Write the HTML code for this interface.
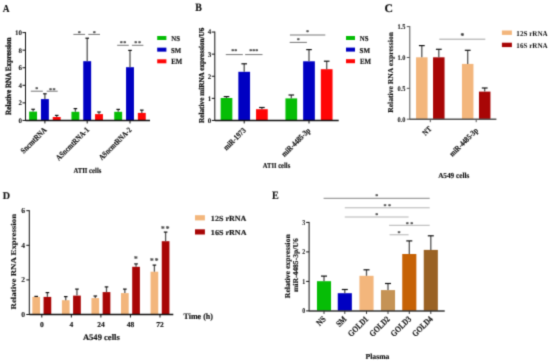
<!DOCTYPE html>
<html><head><meta charset="utf-8"><style>
html,body{margin:0;padding:0;background:#fff;}
svg{display:block;will-change:transform;text-rendering:geometricPrecision;}
text{font-family:'Liberation Serif',serif;font-weight:bold;}
</style></head><body>
<svg width="550" height="362" viewBox="0 0 550 362">
<defs><filter id="bl" color-interpolation-filters="sRGB" x="0" y="0" width="550" height="362" filterUnits="userSpaceOnUse"><feConvolveMatrix order="3" kernelMatrix="0.0225 0.1050 0.0225 0.1050 0.4900 0.1050 0.0225 0.1050 0.0225" edgeMode="duplicate" preserveAlpha="false"/></filter></defs>
<g filter="url(#bl)">
<rect width="550" height="362" fill="#fff"/>
<text transform="translate(2.71 11.80) scale(0.883 1)" x="0" y="0" font-size="10.61" fill="#111" stroke="#111" stroke-width="0.15">A</text>
<rect x="29.15" y="111.60" width="7.90" height="8.85" fill="#06bd06"/>
<line x1="33.10" y1="111.60" x2="33.10" y2="109.30" stroke="#555" stroke-width="1.3"/>
<line x1="31.30" y1="109.30" x2="34.90" y2="109.30" stroke="#111" stroke-width="1.2"/>
<rect x="40.95" y="99.10" width="7.90" height="21.35" fill="#0000c2"/>
<line x1="44.90" y1="99.10" x2="44.90" y2="93.80" stroke="#555" stroke-width="1.3"/>
<line x1="43.10" y1="93.80" x2="46.70" y2="93.80" stroke="#111" stroke-width="1.2"/>
<rect x="52.75" y="117.00" width="7.90" height="3.45" fill="#ff0606"/>
<line x1="56.70" y1="117.00" x2="56.70" y2="115.40" stroke="#555" stroke-width="1.3"/>
<line x1="54.90" y1="115.40" x2="58.50" y2="115.40" stroke="#111" stroke-width="1.2"/>
<rect x="71.45" y="111.80" width="7.90" height="8.65" fill="#06bd06"/>
<line x1="75.40" y1="111.80" x2="75.40" y2="108.60" stroke="#555" stroke-width="1.3"/>
<line x1="73.60" y1="108.60" x2="77.20" y2="108.60" stroke="#111" stroke-width="1.2"/>
<rect x="83.25" y="61.20" width="7.90" height="59.25" fill="#0000c2"/>
<line x1="87.20" y1="61.20" x2="87.20" y2="38.20" stroke="#555" stroke-width="1.3"/>
<line x1="85.40" y1="38.20" x2="89.00" y2="38.20" stroke="#111" stroke-width="1.2"/>
<rect x="95.05" y="114.10" width="7.90" height="6.35" fill="#ff0606"/>
<line x1="99.00" y1="114.10" x2="99.00" y2="112.00" stroke="#555" stroke-width="1.3"/>
<line x1="97.20" y1="112.00" x2="100.80" y2="112.00" stroke="#111" stroke-width="1.2"/>
<rect x="114.25" y="111.80" width="7.90" height="8.65" fill="#06bd06"/>
<line x1="118.20" y1="111.80" x2="118.20" y2="109.40" stroke="#555" stroke-width="1.3"/>
<line x1="116.40" y1="109.40" x2="120.00" y2="109.40" stroke="#111" stroke-width="1.2"/>
<rect x="126.05" y="67.20" width="7.90" height="53.25" fill="#0000c2"/>
<line x1="130.00" y1="67.20" x2="130.00" y2="50.40" stroke="#555" stroke-width="1.3"/>
<line x1="128.20" y1="50.40" x2="131.80" y2="50.40" stroke="#111" stroke-width="1.2"/>
<rect x="137.85" y="112.90" width="7.90" height="7.55" fill="#ff0606"/>
<line x1="141.80" y1="112.90" x2="141.80" y2="110.10" stroke="#555" stroke-width="1.3"/>
<line x1="140.00" y1="110.10" x2="143.60" y2="110.10" stroke="#111" stroke-width="1.2"/>
<line x1="30.80" y1="91.20" x2="42.80" y2="91.20" stroke="#666" stroke-width="0.9"/>
<text x="36.80" y="91.29" font-size="6" text-anchor="middle" fill="#444" stroke="#444" stroke-width="0.15">*</text>
<line x1="46.70" y1="91.20" x2="57.70" y2="91.20" stroke="#666" stroke-width="0.9"/>
<text x="50.40" y="91.59" font-size="6" text-anchor="middle" fill="#444" stroke="#444" stroke-width="0.15">*</text>
<text x="54.00" y="91.59" font-size="6" text-anchor="middle" fill="#444" stroke="#444" stroke-width="0.15">*</text>
<line x1="73.40" y1="34.40" x2="85.10" y2="34.40" stroke="#666" stroke-width="0.9"/>
<text x="79.25" y="34.99" font-size="6" text-anchor="middle" fill="#444" stroke="#444" stroke-width="0.15">*</text>
<line x1="88.30" y1="34.40" x2="100.00" y2="34.40" stroke="#666" stroke-width="0.9"/>
<text x="94.15" y="34.99" font-size="6" text-anchor="middle" fill="#444" stroke="#444" stroke-width="0.15">*</text>
<line x1="117.20" y1="45.30" x2="128.80" y2="45.30" stroke="#666" stroke-width="0.9"/>
<text x="121.20" y="45.29" font-size="6" text-anchor="middle" fill="#444" stroke="#444" stroke-width="0.15">*</text>
<text x="124.80" y="45.29" font-size="6" text-anchor="middle" fill="#444" stroke="#444" stroke-width="0.15">*</text>
<line x1="131.90" y1="45.30" x2="143.40" y2="45.30" stroke="#666" stroke-width="0.9"/>
<text x="135.85" y="45.29" font-size="6" text-anchor="middle" fill="#444" stroke="#444" stroke-width="0.15">*</text>
<text x="139.45" y="45.29" font-size="6" text-anchor="middle" fill="#444" stroke="#444" stroke-width="0.15">*</text>
<rect x="157.20" y="36.00" width="9.20" height="4.00" fill="#06bd06"/>
<text transform="translate(171.26 41.43) scale(0.915 1)" x="0" y="0" font-size="7.46" fill="#111" stroke="#111" stroke-width="0.15">NS</text>
<rect x="157.20" y="47.65" width="9.20" height="4.00" fill="#0000c2"/>
<text transform="translate(171.03 52.63) scale(0.909 1)" x="0" y="0" font-size="7.46" fill="#111" stroke="#111" stroke-width="0.15">SM</text>
<rect x="157.20" y="59.30" width="9.20" height="4.00" fill="#ff0606"/>
<text transform="translate(171.30 64.20) scale(0.861 1)" x="0" y="0" font-size="7.94" fill="#111" stroke="#111" stroke-width="0.15">EM</text>
<text transform="translate(11.30 114.91) rotate(-90) scale(1 1.108)" x="0" y="0" font-size="7.17" fill="#111" stroke="#111" stroke-width="0.3">Relative RNA Expression</text>
<text transform="translate(47.30 130.50) rotate(-45) scale(0.93 1.12)" x="0" y="0" font-size="7.31" text-anchor="end" fill="#111" stroke="#111" stroke-width="0.15">SncmtRNA</text>
<text transform="translate(89.50 130.50) rotate(-45) scale(0.93 1.12)" x="0" y="0" font-size="7.2" text-anchor="end" fill="#111" stroke="#111" stroke-width="0.15">ASncmtRNA-1</text>
<text transform="translate(132.00 130.50) rotate(-45) scale(0.93 1.12)" x="0" y="0" font-size="7.1" text-anchor="end" fill="#111" stroke="#111" stroke-width="0.15">ASncmtRNA-2</text>
<text transform="translate(73.43 172.82) scale(0.890 1)" x="0" y="0" font-size="7.52" fill="#111" stroke="#111" stroke-width="0.15">ATII cells</text>
<text transform="translate(195.35 11.44) scale(0.885 1)" x="0" y="0" font-size="11.21" fill="#111" stroke="#111" stroke-width="0.15">B</text>
<rect x="220.65" y="98.00" width="11.70" height="22.45" fill="#06bd06"/>
<line x1="226.50" y1="98.00" x2="226.50" y2="96.60" stroke="#555" stroke-width="1.3"/>
<line x1="223.70" y1="96.60" x2="229.30" y2="96.60" stroke="#111" stroke-width="1.2"/>
<rect x="238.35" y="71.80" width="11.70" height="48.65" fill="#0000c2"/>
<line x1="244.20" y1="71.80" x2="244.20" y2="63.80" stroke="#555" stroke-width="1.3"/>
<line x1="241.40" y1="63.80" x2="247.00" y2="63.80" stroke="#111" stroke-width="1.2"/>
<rect x="256.05" y="109.20" width="11.70" height="11.25" fill="#ff0606"/>
<line x1="261.90" y1="109.20" x2="261.90" y2="107.50" stroke="#555" stroke-width="1.3"/>
<line x1="259.10" y1="107.50" x2="264.70" y2="107.50" stroke="#111" stroke-width="1.2"/>
<rect x="285.45" y="98.40" width="11.70" height="22.05" fill="#06bd06"/>
<line x1="291.30" y1="98.40" x2="291.30" y2="95.00" stroke="#555" stroke-width="1.3"/>
<line x1="288.50" y1="95.00" x2="294.10" y2="95.00" stroke="#111" stroke-width="1.2"/>
<rect x="303.15" y="61.30" width="11.70" height="59.15" fill="#0000c2"/>
<line x1="309.00" y1="61.30" x2="309.00" y2="49.60" stroke="#555" stroke-width="1.3"/>
<line x1="306.20" y1="49.60" x2="311.80" y2="49.60" stroke="#111" stroke-width="1.2"/>
<rect x="320.85" y="69.20" width="11.70" height="51.25" fill="#ff0606"/>
<line x1="326.70" y1="69.20" x2="326.70" y2="61.20" stroke="#555" stroke-width="1.3"/>
<line x1="323.90" y1="61.20" x2="329.50" y2="61.20" stroke="#111" stroke-width="1.2"/>
<line x1="225.80" y1="54.60" x2="242.80" y2="54.60" stroke="#666" stroke-width="0.9"/>
<text x="232.80" y="53.29" font-size="6" text-anchor="middle" fill="#444" stroke="#444" stroke-width="0.15">*</text>
<text x="235.80" y="53.29" font-size="6" text-anchor="middle" fill="#444" stroke="#444" stroke-width="0.15">*</text>
<line x1="245.10" y1="54.60" x2="262.50" y2="54.60" stroke="#666" stroke-width="0.9"/>
<text x="250.80" y="53.29" font-size="6" text-anchor="middle" fill="#444" stroke="#444" stroke-width="0.15">*</text>
<text x="253.80" y="53.29" font-size="6" text-anchor="middle" fill="#444" stroke="#444" stroke-width="0.15">*</text>
<text x="256.80" y="53.29" font-size="6" text-anchor="middle" fill="#444" stroke="#444" stroke-width="0.15">*</text>
<line x1="289.70" y1="42.40" x2="306.90" y2="42.40" stroke="#666" stroke-width="0.9"/>
<text x="298.30" y="41.79" font-size="6" text-anchor="middle" fill="#444" stroke="#444" stroke-width="0.15">*</text>
<line x1="289.90" y1="35.00" x2="325.30" y2="35.00" stroke="#666" stroke-width="0.9"/>
<text x="307.60" y="34.49" font-size="6" text-anchor="middle" fill="#444" stroke="#444" stroke-width="0.15">*</text>
<rect x="346.00" y="36.00" width="9.00" height="4.00" fill="#06bd06"/>
<text transform="translate(359.86 41.43) scale(0.915 1)" x="0" y="0" font-size="7.46" fill="#111" stroke="#111" stroke-width="0.15">NS</text>
<rect x="346.00" y="47.60" width="9.00" height="4.00" fill="#0000c2"/>
<text transform="translate(359.62 52.63) scale(0.938 1)" x="0" y="0" font-size="7.46" fill="#111" stroke="#111" stroke-width="0.15">SM</text>
<rect x="346.00" y="59.20" width="9.00" height="4.00" fill="#ff0606"/>
<text transform="translate(359.90 64.20) scale(0.869 1)" x="0" y="0" font-size="7.94" fill="#111" stroke="#111" stroke-width="0.15">EM</text>
<text transform="translate(203.80 122.91) rotate(-90) scale(1 1.034)" x="0" y="0" font-size="7.23" fill="#111" stroke="#111" stroke-width="0.25">Relative miRNA expression/U6</text>
<text transform="translate(246.30 131.00) rotate(-45) scale(0.93 1.12)" x="0" y="0" font-size="7.2" text-anchor="end" fill="#111" stroke="#111" stroke-width="0.15">miR-1973</text>
<text transform="translate(310.80 131.00) rotate(-45) scale(0.93 1.12)" x="0" y="0" font-size="7.2" text-anchor="end" fill="#111" stroke="#111" stroke-width="0.15">miR-4485-3p</text>
<text transform="translate(262.73 167.72) scale(0.861 1)" x="0" y="0" font-size="7.66" fill="#111" stroke="#111" stroke-width="0.15">ATII cells</text>
<text transform="translate(384.61 11.58) scale(1.011 1)" x="0" y="0" font-size="11.64" fill="#111" stroke="#111" stroke-width="0.15">C</text>
<rect x="416.05" y="57.30" width="11.50" height="61.90" fill="#f3b67c"/>
<line x1="421.80" y1="57.30" x2="421.80" y2="45.60" stroke="#555" stroke-width="1.3"/>
<line x1="418.90" y1="45.60" x2="424.70" y2="45.60" stroke="#111" stroke-width="1.2"/>
<rect x="433.05" y="57.30" width="11.50" height="61.90" fill="#a80606"/>
<line x1="438.80" y1="57.30" x2="438.80" y2="49.30" stroke="#555" stroke-width="1.3"/>
<line x1="435.90" y1="49.30" x2="441.70" y2="49.30" stroke="#111" stroke-width="1.2"/>
<rect x="461.95" y="63.90" width="11.50" height="55.30" fill="#f3b67c"/>
<line x1="467.70" y1="63.90" x2="467.70" y2="50.30" stroke="#555" stroke-width="1.3"/>
<line x1="464.80" y1="50.30" x2="470.60" y2="50.30" stroke="#111" stroke-width="1.2"/>
<rect x="478.95" y="91.60" width="11.50" height="27.60" fill="#a80606"/>
<line x1="484.70" y1="91.60" x2="484.70" y2="88.00" stroke="#555" stroke-width="1.3"/>
<line x1="481.80" y1="88.00" x2="487.60" y2="88.00" stroke="#111" stroke-width="1.2"/>
<line x1="439.30" y1="39.20" x2="485.30" y2="39.20" stroke="#999" stroke-width="0.9"/>
<text x="462.30" y="37.79" font-size="7.5" text-anchor="middle" fill="#333" stroke="#333" stroke-width="0.15">*</text>
<rect x="501.90" y="30.50" width="10.00" height="4.40" fill="#f3b67c"/>
<text transform="translate(516.33 36.43) scale(0.953 1)" x="0" y="0" font-size="7.46" fill="#111" stroke="#111" stroke-width="0">12S rRNA</text>
<rect x="501.90" y="42.70" width="10.00" height="4.40" fill="#a80606"/>
<text transform="translate(516.33 48.48) scale(0.973 1)" x="0" y="0" font-size="7.31" fill="#111" stroke="#111" stroke-width="0">16S rRNA</text>
<text transform="translate(393.30 112.81) rotate(-90) scale(1 0.980)" x="0" y="0" font-size="7.63" fill="#111" stroke="#111" stroke-width="0.15">Relative RNA expression</text>
<text transform="translate(432.00 129.50) rotate(-45) scale(0.93 1.12)" x="0" y="0" font-size="7.1" text-anchor="end" fill="#111" stroke="#111" stroke-width="0.15">NT</text>
<text transform="translate(478.50 131.00) rotate(-45) scale(0.93 1.12)" x="0" y="0" font-size="7.1" text-anchor="end" fill="#111" stroke="#111" stroke-width="0.15">miR-4485-3p</text>
<text transform="translate(438.13 177.62) scale(0.945 1)" x="0" y="0" font-size="7.66" fill="#111" stroke="#111" stroke-width="0.15">A549 cells</text>
<text transform="translate(2.85 198.90) scale(0.992 1)" x="0" y="0" font-size="10.23" fill="#111" stroke="#111" stroke-width="0.15">D</text>
<rect x="32.35" y="296.90" width="7.70" height="17.60" fill="#f3b67c"/>
<line x1="36.20" y1="296.90" x2="36.20" y2="296.40" stroke="#555" stroke-width="1.3"/>
<line x1="34.40" y1="296.40" x2="38.00" y2="296.40" stroke="#111" stroke-width="1.2"/>
<rect x="43.55" y="296.90" width="7.70" height="17.60" fill="#a80606"/>
<line x1="47.40" y1="296.90" x2="47.40" y2="292.60" stroke="#555" stroke-width="1.3"/>
<line x1="45.60" y1="292.60" x2="49.20" y2="292.60" stroke="#111" stroke-width="1.2"/>
<rect x="61.90" y="300.20" width="7.70" height="14.30" fill="#f3b67c"/>
<line x1="65.75" y1="300.20" x2="65.75" y2="296.60" stroke="#555" stroke-width="1.3"/>
<line x1="63.95" y1="296.60" x2="67.55" y2="296.60" stroke="#111" stroke-width="1.2"/>
<rect x="73.10" y="295.60" width="7.70" height="18.90" fill="#a80606"/>
<line x1="76.95" y1="295.60" x2="76.95" y2="289.10" stroke="#555" stroke-width="1.3"/>
<line x1="75.15" y1="289.10" x2="78.75" y2="289.10" stroke="#111" stroke-width="1.2"/>
<rect x="91.45" y="298.10" width="7.70" height="16.40" fill="#f3b67c"/>
<line x1="95.30" y1="298.10" x2="95.30" y2="296.00" stroke="#555" stroke-width="1.3"/>
<line x1="93.50" y1="296.00" x2="97.10" y2="296.00" stroke="#111" stroke-width="1.2"/>
<rect x="102.65" y="292.10" width="7.70" height="22.40" fill="#a80606"/>
<line x1="106.50" y1="292.10" x2="106.50" y2="286.90" stroke="#555" stroke-width="1.3"/>
<line x1="104.70" y1="286.90" x2="108.30" y2="286.90" stroke="#111" stroke-width="1.2"/>
<rect x="121.00" y="293.10" width="7.70" height="21.40" fill="#f3b67c"/>
<line x1="124.85" y1="293.10" x2="124.85" y2="289.10" stroke="#555" stroke-width="1.3"/>
<line x1="123.05" y1="289.10" x2="126.65" y2="289.10" stroke="#111" stroke-width="1.2"/>
<rect x="132.20" y="266.80" width="7.70" height="47.70" fill="#a80606"/>
<line x1="136.05" y1="266.80" x2="136.05" y2="263.90" stroke="#555" stroke-width="1.3"/>
<line x1="134.25" y1="263.90" x2="137.85" y2="263.90" stroke="#111" stroke-width="1.2"/>
<rect x="150.55" y="271.70" width="7.70" height="42.80" fill="#f3b67c"/>
<line x1="154.40" y1="271.70" x2="154.40" y2="265.10" stroke="#555" stroke-width="1.3"/>
<line x1="152.60" y1="265.10" x2="156.20" y2="265.10" stroke="#111" stroke-width="1.2"/>
<rect x="161.75" y="241.20" width="7.70" height="73.30" fill="#a80606"/>
<line x1="165.60" y1="241.20" x2="165.60" y2="232.10" stroke="#555" stroke-width="1.3"/>
<line x1="163.80" y1="232.10" x2="167.40" y2="232.10" stroke="#111" stroke-width="1.2"/>
<text x="135.90" y="261.19" font-size="7.5" text-anchor="middle" fill="#444" stroke="#444" stroke-width="0.15">*</text>
<text x="151.90" y="262.99" font-size="7.5" text-anchor="middle" fill="#444" stroke="#444" stroke-width="0.15">*</text>
<text x="156.50" y="262.99" font-size="7.5" text-anchor="middle" fill="#444" stroke="#444" stroke-width="0.15">*</text>
<text x="162.90" y="230.99" font-size="7.5" text-anchor="middle" fill="#444" stroke="#444" stroke-width="0.15">*</text>
<text x="167.50" y="230.99" font-size="7.5" text-anchor="middle" fill="#444" stroke="#444" stroke-width="0.15">*</text>
<rect x="195.00" y="215.20" width="9.90" height="5.20" fill="#f3b67c"/>
<text transform="translate(210.86 220.62) scale(1.039 1)" x="0" y="0" font-size="7.76" fill="#111" stroke="#111" stroke-width="0.15">12S rRNA</text>
<rect x="195.00" y="229.30" width="9.90" height="5.20" fill="#a80606"/>
<text transform="translate(210.86 234.52) scale(1.059 1)" x="0" y="0" font-size="7.61" fill="#111" stroke="#111" stroke-width="0.15">16S rRNA</text>
<text transform="translate(16.00 309.43) rotate(-90) scale(1 0.847)" x="0" y="0" font-size="8.84" fill="#111" stroke="#111" stroke-width="0.15">Relative RNA Expression</text>
<text x="41.80" y="326.80" font-size="7.5" text-anchor="middle" fill="#111" stroke="#111" stroke-width="0.15">0</text>
<text x="71.35" y="326.80" font-size="7.5" text-anchor="middle" fill="#111" stroke="#111" stroke-width="0.15">4</text>
<text x="100.90" y="326.80" font-size="7.5" text-anchor="middle" fill="#111" stroke="#111" stroke-width="0.15">24</text>
<text x="130.45" y="326.80" font-size="7.5" text-anchor="middle" fill="#111" stroke="#111" stroke-width="0.15">48</text>
<text x="160.00" y="326.80" font-size="7.5" text-anchor="middle" fill="#111" stroke="#111" stroke-width="0.15">72</text>
<text transform="translate(82.91 339.51) scale(1.007 1)" x="0" y="0" font-size="8.51" fill="#111" stroke="#111" stroke-width="0.15">A549 cells</text>
<text transform="translate(183.48 318.60) scale(0.963 1)" x="0" y="0" font-size="8.35" fill="#111" stroke="#111" stroke-width="0.15">Time (h)</text>
<text transform="translate(271.95 199.45) scale(0.888 1)" x="0" y="0" font-size="11.45" fill="#111" stroke="#111" stroke-width="0.15">E</text>
<rect x="316.95" y="281.20" width="14.10" height="29.70" fill="#06bd06"/>
<line x1="324.00" y1="281.20" x2="324.00" y2="276.10" stroke="#555" stroke-width="1.3"/>
<line x1="321.00" y1="276.10" x2="327.00" y2="276.10" stroke="#111" stroke-width="1.2"/>
<rect x="337.75" y="293.20" width="14.10" height="17.70" fill="#0000c2"/>
<line x1="344.80" y1="293.20" x2="344.80" y2="289.50" stroke="#555" stroke-width="1.3"/>
<line x1="341.80" y1="289.50" x2="347.80" y2="289.50" stroke="#111" stroke-width="1.2"/>
<rect x="359.45" y="275.80" width="14.10" height="35.10" fill="#f3b67c"/>
<line x1="366.50" y1="275.80" x2="366.50" y2="269.80" stroke="#555" stroke-width="1.3"/>
<line x1="363.50" y1="269.80" x2="369.50" y2="269.80" stroke="#111" stroke-width="1.2"/>
<rect x="380.95" y="290.10" width="14.10" height="20.80" fill="#c59355"/>
<line x1="388.00" y1="290.10" x2="388.00" y2="283.50" stroke="#555" stroke-width="1.3"/>
<line x1="385.00" y1="283.50" x2="391.00" y2="283.50" stroke="#111" stroke-width="1.2"/>
<rect x="402.25" y="254.00" width="14.10" height="56.90" fill="#c66205"/>
<line x1="409.30" y1="254.00" x2="409.30" y2="240.90" stroke="#555" stroke-width="1.3"/>
<line x1="406.30" y1="240.90" x2="412.30" y2="240.90" stroke="#111" stroke-width="1.2"/>
<rect x="423.75" y="249.90" width="14.10" height="61.00" fill="#9a6224"/>
<line x1="430.80" y1="249.90" x2="430.80" y2="235.80" stroke="#555" stroke-width="1.3"/>
<line x1="427.80" y1="235.80" x2="433.80" y2="235.80" stroke="#111" stroke-width="1.2"/>
<line x1="323.60" y1="198.30" x2="429.70" y2="198.30" stroke="#777" stroke-width="0.9"/>
<text x="376.65" y="198.09" font-size="6" text-anchor="middle" fill="#444" stroke="#444" stroke-width="0.15">*</text>
<line x1="344.80" y1="207.80" x2="429.70" y2="207.80" stroke="#aaa" stroke-width="0.9"/>
<text x="385.00" y="208.19" font-size="6" text-anchor="middle" fill="#444" stroke="#444" stroke-width="0.15">*</text>
<text x="389.50" y="208.19" font-size="6" text-anchor="middle" fill="#444" stroke="#444" stroke-width="0.15">*</text>
<line x1="344.80" y1="217.00" x2="408.60" y2="217.00" stroke="#aaa" stroke-width="0.9"/>
<text x="376.70" y="217.29" font-size="6" text-anchor="middle" fill="#444" stroke="#444" stroke-width="0.15">*</text>
<line x1="389.10" y1="225.30" x2="429.70" y2="225.30" stroke="#aaa" stroke-width="0.9"/>
<text x="407.15" y="226.29" font-size="6" text-anchor="middle" fill="#444" stroke="#444" stroke-width="0.15">*</text>
<text x="411.65" y="226.29" font-size="6" text-anchor="middle" fill="#444" stroke="#444" stroke-width="0.15">*</text>
<line x1="389.60" y1="234.80" x2="408.60" y2="234.80" stroke="#aaa" stroke-width="0.9"/>
<text x="399.10" y="235.39" font-size="6" text-anchor="middle" fill="#444" stroke="#444" stroke-width="0.15">*</text>
<text transform="translate(289.70 298.22) rotate(-90) scale(1 0.961)" x="0" y="0" font-size="7.78" fill="#111" stroke="#111" stroke-width="0.15">Relative expression</text>
<text transform="translate(298.20 292.09) rotate(-90) scale(1 0.961)" x="0" y="0" font-size="7.63" fill="#111" stroke="#111" stroke-width="0.15">miR-4485-3p/U6</text>
<text transform="translate(326.40 319.60) rotate(-45) scale(0.93 1.12)" x="0" y="0" font-size="7.8" text-anchor="end" fill="#111" stroke="#111" stroke-width="0.15">NS</text>
<text transform="translate(347.20 319.60) rotate(-45) scale(0.93 1.12)" x="0" y="0" font-size="7.8" text-anchor="end" fill="#111" stroke="#111" stroke-width="0.15">SM</text>
<text transform="translate(368.90 319.60) rotate(-45) scale(0.93 1.12)" x="0" y="0" font-size="7.8" text-anchor="end" fill="#111" stroke="#111" stroke-width="0.15">GOLD1</text>
<text transform="translate(390.40 319.60) rotate(-45) scale(0.93 1.12)" x="0" y="0" font-size="7.8" text-anchor="end" fill="#111" stroke="#111" stroke-width="0.15">GOLD2</text>
<text transform="translate(411.70 319.60) rotate(-45) scale(0.93 1.12)" x="0" y="0" font-size="7.8" text-anchor="end" fill="#111" stroke="#111" stroke-width="0.15">GOLD3</text>
<text transform="translate(433.20 319.60) rotate(-45) scale(0.93 1.12)" x="0" y="0" font-size="7.8" text-anchor="end" fill="#111" stroke="#111" stroke-width="0.15">GOLD4</text>
<text transform="translate(365.48 358.62) scale(1.005 1)" x="0" y="0" font-size="7.66" fill="#111" stroke="#111" stroke-width="0.15">Plasma</text>
<line x1="25.50" y1="32.10" x2="25.50" y2="120.95" stroke="#111" stroke-width="1"/>
<line x1="22.50" y1="120.45" x2="25.50" y2="120.45" stroke="#111" stroke-width="1"/>
<text transform="translate(22.10 122.82) scale(1.0 1)" x="0" y="0" font-size="7.0" text-anchor="end" fill="#111" stroke="#111" stroke-width="0.05">0</text>
<line x1="22.50" y1="102.88" x2="25.50" y2="102.88" stroke="#111" stroke-width="1"/>
<text transform="translate(22.10 105.25) scale(1.0 1)" x="0" y="0" font-size="7.0" text-anchor="end" fill="#111" stroke="#111" stroke-width="0.05">2</text>
<line x1="22.50" y1="85.31" x2="25.50" y2="85.31" stroke="#111" stroke-width="1"/>
<text transform="translate(22.10 87.68) scale(1.0 1)" x="0" y="0" font-size="7.0" text-anchor="end" fill="#111" stroke="#111" stroke-width="0.05">4</text>
<line x1="22.50" y1="67.74" x2="25.50" y2="67.74" stroke="#111" stroke-width="1"/>
<text transform="translate(22.10 70.11) scale(1.0 1)" x="0" y="0" font-size="7.0" text-anchor="end" fill="#111" stroke="#111" stroke-width="0.05">6</text>
<line x1="22.50" y1="50.17" x2="25.50" y2="50.17" stroke="#111" stroke-width="1"/>
<text transform="translate(22.10 52.54) scale(1.0 1)" x="0" y="0" font-size="7.0" text-anchor="end" fill="#111" stroke="#111" stroke-width="0.05">8</text>
<line x1="22.50" y1="32.60" x2="25.50" y2="32.60" stroke="#111" stroke-width="1"/>
<text transform="translate(22.10 34.97) scale(1.0 1)" x="0" y="0" font-size="7.0" text-anchor="end" fill="#111" stroke="#111" stroke-width="0.05">10</text>
<line x1="25.50" y1="120.45" x2="150.00" y2="120.45" stroke="#111" stroke-width="1.5"/>
<line x1="44.90" y1="120.45" x2="44.90" y2="123.45" stroke="#111" stroke-width="1"/>
<line x1="87.20" y1="120.45" x2="87.20" y2="123.45" stroke="#111" stroke-width="1"/>
<line x1="130.00" y1="120.45" x2="130.00" y2="123.45" stroke="#111" stroke-width="1"/>
<line x1="214.80" y1="31.55" x2="214.80" y2="120.95" stroke="#111" stroke-width="1"/>
<line x1="211.80" y1="120.45" x2="214.80" y2="120.45" stroke="#111" stroke-width="1"/>
<text transform="translate(211.20 122.82) scale(1.0 1)" x="0" y="0" font-size="7.0" text-anchor="end" fill="#111" stroke="#111" stroke-width="0.05">0</text>
<line x1="211.80" y1="98.35" x2="214.80" y2="98.35" stroke="#111" stroke-width="1"/>
<text transform="translate(211.20 100.72) scale(1.0 1)" x="0" y="0" font-size="7.0" text-anchor="end" fill="#111" stroke="#111" stroke-width="0.05">1</text>
<line x1="211.80" y1="76.25" x2="214.80" y2="76.25" stroke="#111" stroke-width="1"/>
<text transform="translate(211.20 78.62) scale(1.0 1)" x="0" y="0" font-size="7.0" text-anchor="end" fill="#111" stroke="#111" stroke-width="0.05">2</text>
<line x1="211.80" y1="54.15" x2="214.80" y2="54.15" stroke="#111" stroke-width="1"/>
<text transform="translate(211.20 56.52) scale(1.0 1)" x="0" y="0" font-size="7.0" text-anchor="end" fill="#111" stroke="#111" stroke-width="0.05">3</text>
<line x1="211.80" y1="32.05" x2="214.80" y2="32.05" stroke="#111" stroke-width="1"/>
<text transform="translate(211.20 34.42) scale(1.0 1)" x="0" y="0" font-size="7.0" text-anchor="end" fill="#111" stroke="#111" stroke-width="0.05">4</text>
<line x1="214.80" y1="120.45" x2="338.70" y2="120.45" stroke="#111" stroke-width="1.5"/>
<line x1="244.20" y1="120.45" x2="244.20" y2="123.45" stroke="#111" stroke-width="1"/>
<line x1="309.00" y1="120.45" x2="309.00" y2="123.45" stroke="#111" stroke-width="1"/>
<line x1="409.80" y1="26.10" x2="409.80" y2="119.70" stroke="#555" stroke-width="1"/>
<line x1="406.80" y1="119.20" x2="409.80" y2="119.20" stroke="#555" stroke-width="1"/>
<text transform="translate(405.40 121.60) scale(0.9 1)" x="0" y="0" font-size="7.1" text-anchor="end" fill="#111" stroke="#111" stroke-width="0.05">0.0</text>
<line x1="406.80" y1="88.33" x2="409.80" y2="88.33" stroke="#555" stroke-width="1"/>
<text transform="translate(405.40 90.73) scale(0.9 1)" x="0" y="0" font-size="7.1" text-anchor="end" fill="#111" stroke="#111" stroke-width="0.05">0.5</text>
<line x1="406.80" y1="57.47" x2="409.80" y2="57.47" stroke="#555" stroke-width="1"/>
<text transform="translate(405.40 59.87) scale(0.9 1)" x="0" y="0" font-size="7.1" text-anchor="end" fill="#111" stroke="#111" stroke-width="0.05">1.0</text>
<line x1="406.80" y1="26.60" x2="409.80" y2="26.60" stroke="#555" stroke-width="1"/>
<text transform="translate(405.40 29.00) scale(0.9 1)" x="0" y="0" font-size="7.1" text-anchor="end" fill="#111" stroke="#111" stroke-width="0.05">1.5</text>
<line x1="409.80" y1="119.20" x2="496.40" y2="119.20" stroke="#555" stroke-width="1.5"/>
<line x1="430.30" y1="119.20" x2="430.30" y2="122.20" stroke="#555" stroke-width="1"/>
<line x1="476.20" y1="119.20" x2="476.20" y2="122.20" stroke="#555" stroke-width="1"/>
<line x1="29.30" y1="210.20" x2="29.30" y2="315.00" stroke="#111" stroke-width="1"/>
<line x1="26.30" y1="314.50" x2="29.30" y2="314.50" stroke="#111" stroke-width="1"/>
<text transform="translate(25.10 317.07) scale(1.0 1)" x="0" y="0" font-size="7.6" text-anchor="end" fill="#111" stroke="#111" stroke-width="0.05">0</text>
<line x1="26.30" y1="279.90" x2="29.30" y2="279.90" stroke="#111" stroke-width="1"/>
<text transform="translate(25.10 282.47) scale(1.0 1)" x="0" y="0" font-size="7.6" text-anchor="end" fill="#111" stroke="#111" stroke-width="0.05">2</text>
<line x1="26.30" y1="245.30" x2="29.30" y2="245.30" stroke="#111" stroke-width="1"/>
<text transform="translate(25.10 247.87) scale(1.0 1)" x="0" y="0" font-size="7.6" text-anchor="end" fill="#111" stroke="#111" stroke-width="0.05">4</text>
<line x1="26.30" y1="210.70" x2="29.30" y2="210.70" stroke="#111" stroke-width="1"/>
<text transform="translate(25.10 213.27) scale(1.0 1)" x="0" y="0" font-size="7.6" text-anchor="end" fill="#111" stroke="#111" stroke-width="0.05">6</text>
<line x1="29.30" y1="314.50" x2="173.30" y2="314.50" stroke="#111" stroke-width="1.5"/>
<line x1="41.80" y1="314.50" x2="41.80" y2="317.50" stroke="#111" stroke-width="1"/>
<line x1="71.35" y1="314.50" x2="71.35" y2="317.50" stroke="#111" stroke-width="1"/>
<line x1="100.90" y1="314.50" x2="100.90" y2="317.50" stroke="#111" stroke-width="1"/>
<line x1="130.45" y1="314.50" x2="130.45" y2="317.50" stroke="#111" stroke-width="1"/>
<line x1="160.00" y1="314.50" x2="160.00" y2="317.50" stroke="#111" stroke-width="1"/>
<line x1="309.10" y1="221.90" x2="309.10" y2="311.40" stroke="#111" stroke-width="1"/>
<line x1="306.10" y1="310.90" x2="309.10" y2="310.90" stroke="#111" stroke-width="1"/>
<text transform="translate(305.20 313.40) scale(0.8 1)" x="0" y="0" font-size="7.4" text-anchor="end" fill="#111" stroke="#111" stroke-width="0.05">0</text>
<line x1="306.10" y1="281.40" x2="309.10" y2="281.40" stroke="#111" stroke-width="1"/>
<text transform="translate(305.20 283.90) scale(0.8 1)" x="0" y="0" font-size="7.4" text-anchor="end" fill="#111" stroke="#111" stroke-width="0.05">1</text>
<line x1="306.10" y1="251.90" x2="309.10" y2="251.90" stroke="#111" stroke-width="1"/>
<text transform="translate(305.20 254.40) scale(0.8 1)" x="0" y="0" font-size="7.4" text-anchor="end" fill="#111" stroke="#111" stroke-width="0.05">2</text>
<line x1="306.10" y1="222.40" x2="309.10" y2="222.40" stroke="#111" stroke-width="1"/>
<text transform="translate(305.20 224.90) scale(0.8 1)" x="0" y="0" font-size="7.4" text-anchor="end" fill="#111" stroke="#111" stroke-width="0.05">3</text>
<line x1="309.10" y1="310.90" x2="444.70" y2="310.90" stroke="#333" stroke-width="1.5"/>
<line x1="324.00" y1="310.90" x2="324.00" y2="313.90" stroke="#333" stroke-width="1"/>
<line x1="344.80" y1="310.90" x2="344.80" y2="313.90" stroke="#333" stroke-width="1"/>
<line x1="366.50" y1="310.90" x2="366.50" y2="313.90" stroke="#333" stroke-width="1"/>
<line x1="388.00" y1="310.90" x2="388.00" y2="313.90" stroke="#333" stroke-width="1"/>
<line x1="409.30" y1="310.90" x2="409.30" y2="313.90" stroke="#333" stroke-width="1"/>
<line x1="430.80" y1="310.90" x2="430.80" y2="313.90" stroke="#333" stroke-width="1"/>
</g>
</svg>
</body></html>
